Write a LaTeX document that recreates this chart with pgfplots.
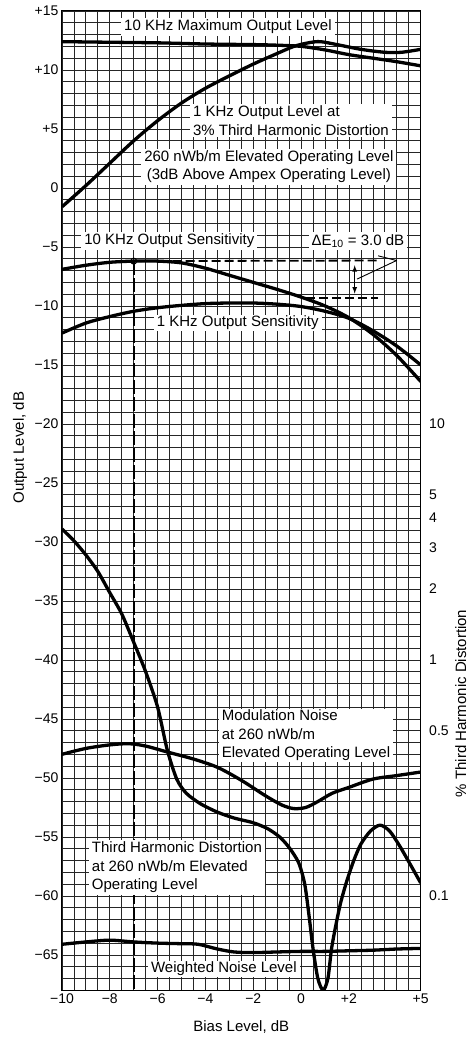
\documentclass[border=0pt]{standalone}
\usepackage{fontspec}
\setmainfont{Liberation Sans}
\usepackage{pgfplots}
\pgfplotsset{compat=1.18}
\begin{document}
\begin{tikzpicture}[font=\fontsize{15bp}{18.5bp}\selectfont]
\begin{axis}[
  name=main,
  scale only axis, width=359bp, height=980bp,
  xmin=-10, xmax=5, ymin=-68, ymax=15,
  xtick={-10,-8,-6,-4,-2,0,2,5},
  xticklabels={−10,−8,−6,−4,−2,0,+2,+5},
  ytick={-65,-60,-55,-50,-45,-40,-35,-30,-25,-20,-15,-10,-5,0,5,10,15},
  yticklabels={−65,−60,−55,−50,−45,−40,−35,−30,−25,−20,−15,−10,−5,0,+5,+10,+15},
  minor xtick={-10,-9.5,...,5},
  minor ytick={-68,-67,...,15},
  grid=both,
  major grid style={black!85, line width=0.75bp},
  minor grid style={black!85, line width=0.75bp},
  major tick length=0pt, minor tick length=0pt,
  axis line style={black, line width=1bp},
  tick label style={font=\fontsize{14bp}{16bp}\selectfont},
  xlabel={Bias Level, dB},
  ylabel={Output Level, dB},
  xlabel style={at={(rel axis cs:0.5,0)}, anchor=center, yshift=-37bp},
  ylabel style={at={(rel axis cs:0,0.554)}, anchor=center, yshift=42bp},
  every axis plot/.append style={black, line width=3.3bp, line join=round},
  clip=true,
]
% 10 kHz maximum output level
\addplot[smooth, tension=0.5] coordinates {(-10,12.4) (-8,12.35) (-6,12.3) (-4,12.2) (-2,12.15) (-1,12.1) (0,12.0) (1,11.7) (2,11.3) (3,11.0) (4,10.7) (5,10.35)};
% 1 kHz output level at 3% THD
\addplot[smooth, tension=0.5] coordinates {(-10,-1.6) (-9,0.2) (-8,2.1) (-7,4.0) (-6,5.7) (-5,7.2) (-4,8.45) (-3,9.5) (-2,10.5) (-1,11.4) (-0.3,12.0) (0.3,12.3) (0.8,12.4) (1.5,12.15) (2.5,11.75) (3.5,11.5) (4.2,11.5) (5,11.75)};
% 10 kHz output sensitivity
\addplot[smooth, tension=0.5] coordinates {(-10,-6.9) (-9,-6.55) (-8,-6.3) (-7,-6.2) (-6,-6.2) (-5,-6.35) (-4,-6.8) (-3,-7.4) (-2,-8.0) (-1,-8.6) (0,-9.25) (1,-10.0) (2,-11.0) (3,-12.4) (4,-14.2) (5,-16.4)};
% 1 kHz output sensitivity
\addplot[smooth, tension=0.5] coordinates {(-10,-12.3) (-9,-11.45) (-8,-10.9) (-7,-10.45) (-6,-10.15) (-5,-9.95) (-4,-9.8) (-3,-9.75) (-2,-9.75) (-1,-9.85) (0,-10.05) (1,-10.45) (2,-11.05) (3,-12.1) (4,-13.4) (5,-15.0)};
% Third harmonic distortion
\addplot[smooth, tension=0.45] coordinates {(-10,-28.9) (-9.5,-29.9) (-9,-31.1) (-8.5,-32.5) (-8,-34.3) (-7.5,-36.1) (-7,-38.5) (-6.5,-41.0) (-6,-44.0) (-5.6,-47.6) (-5.2,-50.1) (-4.8,-51.3) (-4.2,-52.2) (-3.5,-52.9) (-2.8,-53.4) (-2,-53.8) (-1.4,-54.3) (-0.9,-55.0) (-0.5,-55.9) (-0.1,-57.2) (0.15,-59.0) (0.32,-61.5) (0.5,-64.5) (0.7,-67.0) (0.92,-68.0) (1.12,-67.0) (1.27,-64.5) (1.45,-62.5) (1.65,-60.6) (1.9,-58.8) (2.2,-57.0) (2.5,-55.6) (2.9,-54.5) (3.3,-54.0) (3.7,-54.5) (4.1,-55.7) (4.5,-57.1) (5,-58.9)};
% Modulation noise
\addplot[smooth, tension=0.5] coordinates {(-10,-48.0) (-9,-47.5) (-8,-47.2) (-7.2,-47.1) (-6.5,-47.3) (-5.6,-47.8) (-4.5,-48.4) (-3.5,-49.1) (-2.5,-50.2) (-1.5,-51.5) (-0.8,-52.3) (-0.3,-52.6) (0.2,-52.5) (0.7,-52.0) (1.3,-51.3) (2,-50.8) (3,-50.1) (4,-49.8) (5,-49.5)};
% Weighted noise level
\addplot[smooth, tension=0.5] coordinates {(-10,-64.1) (-9,-63.9) (-8,-63.75) (-7,-63.9) (-6,-64.0) (-5,-64.05) (-4.3,-64.1) (-3.5,-64.5) (-2.8,-64.75) (-2,-64.8) (-1,-64.75) (0,-64.7) (1,-64.7) (2,-64.65) (3,-64.6) (4,-64.5) (5,-64.45)};
% Dashed construction lines
\addplot[line width=1.8bp, dash pattern=on 9bp off 4bp] coordinates {(-7,-6.2) (3.2,-6.15)};
\addplot[line width=1.8bp, dash pattern=on 9bp off 4bp] coordinates {(0.2,-9.3) (3.2,-9.3)};
\addplot[line width=1.8bp, dash pattern=on 14bp off 3bp] coordinates {(-7,-6.2) (-7,-68)};
\addplot[only marks, mark=o, mark size=3bp, line width=1bp] coordinates {(-7,-6.2)};
\addplot[line width=0.9bp] coordinates {(3.22,-5.75) (3.99,-6.15) (2.34,-7.72)};
\addplot[line width=1.2bp, latex-latex] coordinates {(2.24,-6.55) (2.24,-8.95)};
% Labels
\node[fill=white, inner xsep=3bp, inner ysep=2bp] at (axis cs:-3.06,13.64) {10 KHz Maximum Output Level};
\node[fill=white, inner xsep=3bp, inner ysep=2bp, align=left, anchor=west] at (axis cs:-4.65,5.7) {1 KHz Output Level at\\3\% Third Harmonic Distortion};
\node[fill=white, inner xsep=3bp, inner ysep=2bp, align=center] at (axis cs:-1.35,1.79) {260 nWb/m Elevated Operating Level\\(3dB Above Ampex Operating Level)};
\node[fill=white, inner xsep=3bp, inner ysep=2bp] at (axis cs:-5.51,-4.48) {10 KHz Output Sensitivity};
\node[fill=white, inner xsep=3bp, inner ysep=2bp] at (axis cs:2.37,-4.48) {ΔE\textsubscript{10} = 3.0 dB};
\node[fill=white, inner xsep=3bp, inner ysep=1bp] at (axis cs:-2.65,-11.43) {1 KHz Output Sensitivity};
\node[fill=white, inner xsep=3bp, inner ysep=1bp, align=left, anchor=west] at (axis cs:-3.45,-46.4) {Modulation Noise\\at 260 nWb/m\\Elevated Operating Level};
\node[fill=white, inner xsep=3bp, inner ysep=2bp, align=left, anchor=west] at (axis cs:-8.88,-57.58) {Third Harmonic Distortion\\at 260 nWb/m Elevated\\Operating Level};
\node[fill=white, inner xsep=3bp, inner ysep=1bp] at (axis cs:-3.23,-66.2) {Weighted Noise Level};
\end{axis}
\begin{axis}[
  scale only axis, width=359bp, height=980bp,
  xmin=-10, xmax=5, ymin=-68, ymax=15,
  xtick=\empty,
  yticklabel pos=right,
  ytick={-60,-46.02,-40,-33.98,-30.46,-27.96,-26.02,-20},
  yticklabels={0.1,0.5,1,2,3,4,5,10},
  major tick length=0pt,
  axis line style={draw=none},
  tick label style={font=\fontsize{14bp}{16bp}\selectfont},
  yticklabel style={anchor=west, xshift=5bp},
  clip=false,
]
\node[rotate=90, yshift=-40bp] at (rel axis cs:1,0.293) {\% Third Harmonic Distortion};
\end{axis}
\path[use as bounding box] ([shift={(-62bp,-46bp)}]main.south west) rectangle ([shift={(51bp,11bp)}]main.north east);
\end{tikzpicture}
\end{document}
